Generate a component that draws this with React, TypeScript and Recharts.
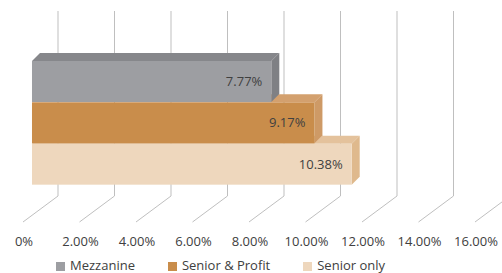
import React from "react";
import { Bar, BarChart, CartesianGrid, LabelList, Legend, XAxis, YAxis } from "recharts";

const categories = ["Mezzanine", "Senior & Profit", "Senior only"];
const values = [7.77, 9.17, 10.38];
const gridTicks = [0, 2, 4, 6, 8, 10, 12, 14, 16];
const tickLabels = ["0%", "2.00%", "4.00%", "6.00%", "8.00%", "10.00%", "12.00%", "14.00%", "16.00%"];

const frontColors = ["#9d9ea2", "#c98d4b", "#eed7bd"];
const topColors = ["#86878b", "#d3a06e", "#e4c29c"];
const sideColors = ["#7f8084", "#ce9a66", "#dfb98d"];

const FONT = "'Open Sans', sans-serif";
const TEXT = "#404040";
const DEPTH = 8; // bar depth offset
const WALL_DX = 35; // back wall -> front edge of floor
const WALL_DY = 26;

// drawn bottom-up so upper bars cover the top faces of the lower ones
const rows = categories.map((name, i) => ({ name, value: values[i] })).reverse();

function Bar3D(props: any) {
  const { x, y, width, height, payload } = props;
  const i = categories.indexOf(payload.name);
  const d = DEPTH;
  const r = x + width;
  return (
    <g>
      <path d={`M${x},${y}L${x + d},${y - d}L${r + d},${y - d}L${r},${y}Z`} fill={topColors[i]} />
      <path d={`M${r},${y}L${r + d},${y - d}L${r + d},${y + height - d}L${r},${y + height}Z`} fill={sideColors[i]} />
      <rect x={x} y={y} width={width} height={height} fill={frontColors[i]} />
    </g>
  );
}

const wallLine = (p: any) => (
  <path
    key={p.key}
    d={`M${p.x1 + WALL_DX},${p.y1}V${p.y2 - WALL_DY}L${p.x1},${p.y2}`}
    stroke="#bfbfbf"
    strokeWidth={1}
    fill="none"
  />
);

function GridTick(props: any) {
  const { x, y, payload } = props;
  const i = gridTicks.indexOf(payload.value);
  return (
    <text x={x + 1} y={y - 6} textAnchor="middle" fill={TEXT} fontFamily={FONT} fontSize={13}>
      {tickLabels[i]}
    </text>
  );
}

function LegendRow() {
  return (
    <div style={{ display: "flex", gap: 33, paddingLeft: 56, fontFamily: FONT, fontSize: 13, color: TEXT }}>
      {categories.map((name, i) => (
        <div key={name} style={{ display: "flex", alignItems: "center", gap: 5, height: 20 }}>
          <span style={{ width: 9, height: 9, background: frontColors[i], display: "inline-block", marginTop: 6 }} />
          <span style={{ lineHeight: "20px", marginTop: 4 }}>{name}</span>
        </div>
      ))}
    </div>
  );
}

export default function App() {
  return (
    <div style={{ width: 502, height: 273, overflow: "hidden", position: "relative" }}>
      <style>{`body{margin:0}`}</style>
      <BarChart
        width={502}
        height={273}
        data={rows}
        layout="vertical"
        margin={{ top: 11, right: 27, left: 23, bottom: 0 }}
        barCategoryGap={0}
      >
        <CartesianGrid xAxisId="grid" horizontal={false} vertical={wallLine} />
        <YAxis type="category" dataKey="name" hide reversed padding={{ top: 50, bottom: 37 }} />
        <XAxis xAxisId="bars" type="number" domain={[-0.292, 14.383]} allowDataOverflow hide />
        <XAxis
          xAxisId="grid"
          type="number"
          domain={[0, 16]}
          allowDataOverflow
          ticks={gridTicks}
          interval={0}
          axisLine={false}
          tickLine={false}
          tickSize={0}
          tickMargin={0}
          height={31}
          tick={<GridTick />}
        />
        <Legend
          verticalAlign="bottom"
          height={20}
          wrapperStyle={{ left: 0, width: 502, bottom: 0 }}
          content={() => <LegendRow />}
        />
        <Bar dataKey="value" xAxisId="bars" shape={<Bar3D />} isAnimationActive={false}>
          <LabelList
            dataKey="value"
            position="insideRight"
            offset={9}
            formatter={(v: any) => `${Number(v).toFixed(2)}%`}
            fill={TEXT}
            fontFamily={FONT}
            fontSize={13}
          />
        </Bar>
      </BarChart>
    </div>
  );
}
